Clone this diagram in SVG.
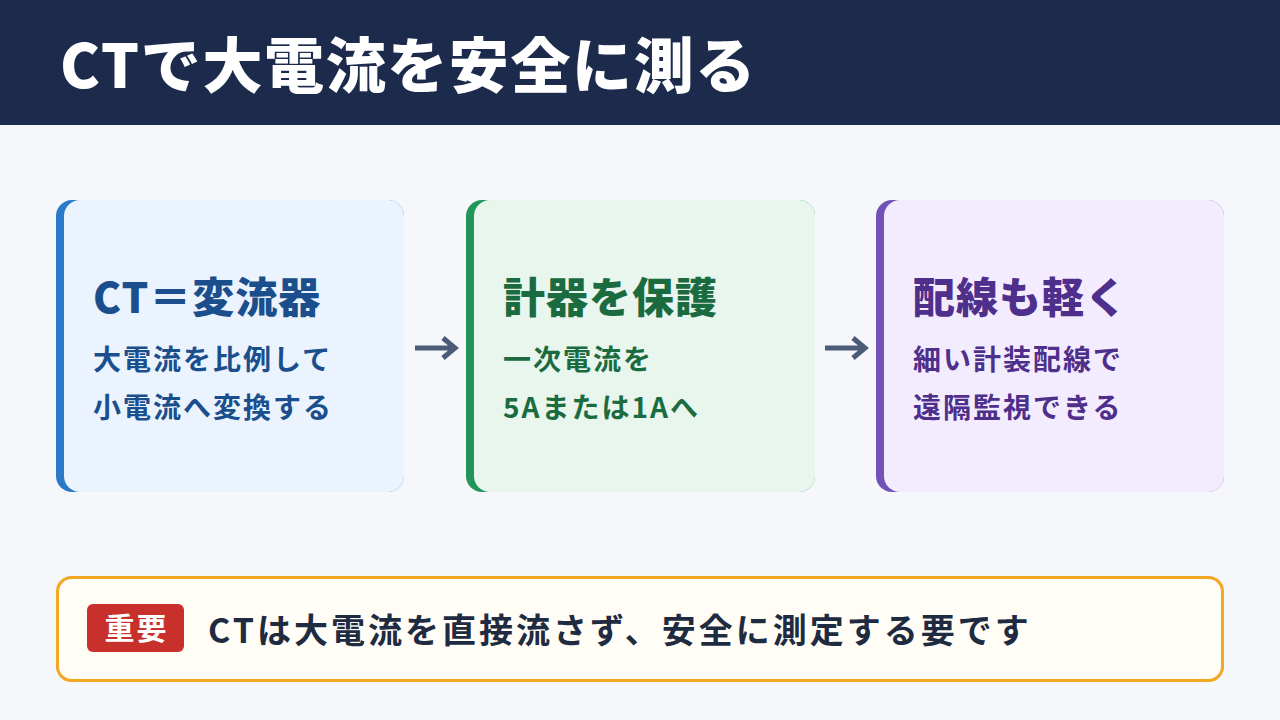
<svg xmlns="http://www.w3.org/2000/svg" width="1280" height="720" viewBox="0 0 1280 720">
<style>
text { font-family: "Noto Sans CJK JP", "Noto Sans", sans-serif; font-weight: 700; }
.title { font-size: 60px; fill: #ffffff; letter-spacing: 1.6px; font-weight: 900; }
.ct { font-size: 42px; letter-spacing: 1px; font-weight: 900; }
.cb { font-size: 28px; letter-spacing: 2px; }
.arrow { fill: none; stroke: #4b5b78; stroke-width: 5; stroke-linecap: butt; stroke-linejoin: miter; }
</style>
<rect x="0" y="0" width="1280" height="720" fill="#f5f7fb"/>
<g id="header">
<rect x="0" y="0" width="1280" height="125" fill="#1c2b4c"/>
<text class="title" x="60" y="88">CTで大電流を安全に測る</text>
</g>
<g id="card1">
<rect x="56" y="200" width="348" height="292" rx="16" fill="#2b79c9"/>
<rect x="64" y="200" width="340" height="292" rx="16" fill="#eaf3fe"/>
<text class="ct" x="93" y="313" fill="#1a4e8c">CT＝変流器</text>
<text class="cb" x="93" y="370" fill="#1a4e8c">大電流を比例して</text>
<text class="cb" x="93" y="418" fill="#1a4e8c">小電流へ変換する</text>
</g>
<g id="card2">
<rect x="466" y="200" width="349" height="292" rx="16" fill="#22955a"/>
<rect x="474" y="200" width="341" height="292" rx="16" fill="#e8f6ee"/>
<text class="ct" x="503" y="313" fill="#1b6b40">計器を保護</text>
<text class="cb" x="503" y="370" fill="#1b6b40">一次電流を</text>
<text class="cb" x="503" y="418" fill="#1b6b40">5Aまたは1Aへ</text>
</g>
<g id="card3">
<rect x="876" y="200" width="348" height="292" rx="16" fill="#7352b8"/>
<rect x="884" y="200" width="340" height="292" rx="16" fill="#f3ecfe"/>
<text class="ct" x="913" y="313" fill="#4f2f8c">配線も軽く</text>
<text class="cb" x="913" y="370" fill="#4f2f8c">細い計装配線で</text>
<text class="cb" x="913" y="418" fill="#4f2f8c">遠隔監視できる</text>
</g>
<g id="connectors">
<path class="arrow" d="M415 348 H454 M443 338 L455 348 L443 358"/>
<path class="arrow" d="M825 348 H864 M853 338 L865 348 L853 358"/>
</g>
<g id="note">
<rect x="57.5" y="577.5" width="1165" height="103" rx="14" fill="#fffdf6" stroke="#f2a723" stroke-width="3"/>
<rect x="87" y="604" width="97" height="48" rx="6" fill="#c8302c"/>
<text x="136.5" y="639" font-size="30" fill="#ffffff" text-anchor="middle" letter-spacing="2">重要</text>
<text x="208" y="643" font-size="34" fill="#1f2b40" letter-spacing="3">CTは大電流を直接流さず、安全に測定する要です</text>
</g>
</svg>
